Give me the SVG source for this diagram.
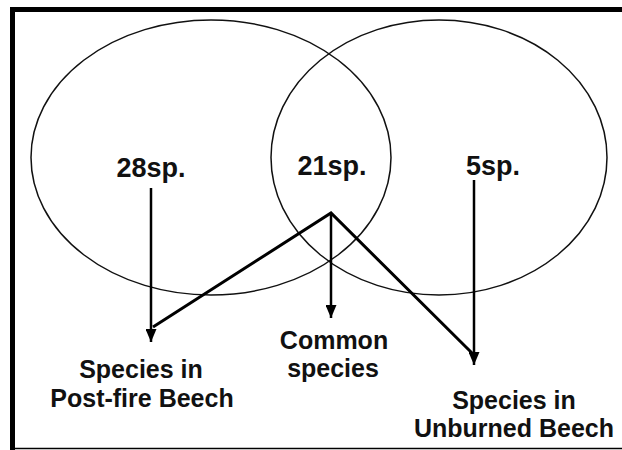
<svg xmlns="http://www.w3.org/2000/svg" width="622" height="450" viewBox="0 0 622 450">
  <defs>
    <marker id="arrow" viewBox="0 0 13 11" refX="13" refY="5.5" markerWidth="13" markerHeight="11" markerUnits="userSpaceOnUse" orient="auto">
      <path d="M0,0 L13,5.5 L0,11 Z" fill="#000"/>
    </marker>
    <style>
      .set { fill: none; stroke: #111; stroke-width: 1.5; }
      .num { font-family: "Liberation Sans", Arial, sans-serif; font-weight: bold; font-size: 27px; fill: #111; text-anchor: middle; }
      .lbl { font-family: "Liberation Sans", Arial, sans-serif; font-weight: bold; font-size: 25px; fill: #111; text-anchor: middle; }
      .arr { stroke: #000; stroke-width: 2.5; fill: none; }
      .diag { stroke: #000; stroke-width: 3; fill: none; stroke-linejoin: miter; }
      .frame { stroke: #000; fill: none; }
    </style>
  </defs>
  <rect x="0" y="0" width="622" height="450" fill="#fff"/>
  <g id="frame">
    <line class="frame" x1="10" y1="9.5" x2="622" y2="9.5" stroke-width="5"/>
    <line class="frame" x1="12.5" y1="7" x2="12.5" y2="450" stroke-width="5"/>
    <line class="frame" x1="10" y1="448.5" x2="622" y2="448.5" stroke-width="1.5"/>
  </g>
  <g id="set-postfire">
    <ellipse class="set" cx="211" cy="157.5" rx="180" ry="137.5"/>
    <text class="num" x="151" y="177">28sp.</text>
  </g>
  <g id="set-unburned">
    <ellipse class="set" cx="439" cy="157.5" rx="168" ry="137.5"/>
    <text class="num" x="493" y="175">5sp.</text>
  </g>
  <g id="set-common">
    <text class="num" x="332" y="175">21sp.</text>
  </g>
  <g id="label-postfire">
    <text class="lbl" x="141" y="378">Species in</text>
    <text class="lbl" x="142" y="407">Post-fire Beech</text>
  </g>
  <g id="label-common">
    <text class="lbl" x="334" y="349">Common</text>
    <text class="lbl" x="333" y="377">species</text>
  </g>
  <g id="label-unburned">
    <text class="lbl" x="514" y="409">Species in</text>
    <text class="lbl" x="514" y="437">Unburned Beech</text>
  </g>
  <g id="connectors">
    <line class="arr" x1="151" y1="188" x2="151" y2="342" marker-end="url(#arrow)"/>
    <line class="arr" x1="331" y1="213" x2="331" y2="318" marker-end="url(#arrow)"/>
    <line class="arr" x1="474" y1="180" x2="474" y2="365" marker-end="url(#arrow)"/>
    <polyline class="diag" points="153,327 331,213 473,354"/>
  </g>
</svg>
